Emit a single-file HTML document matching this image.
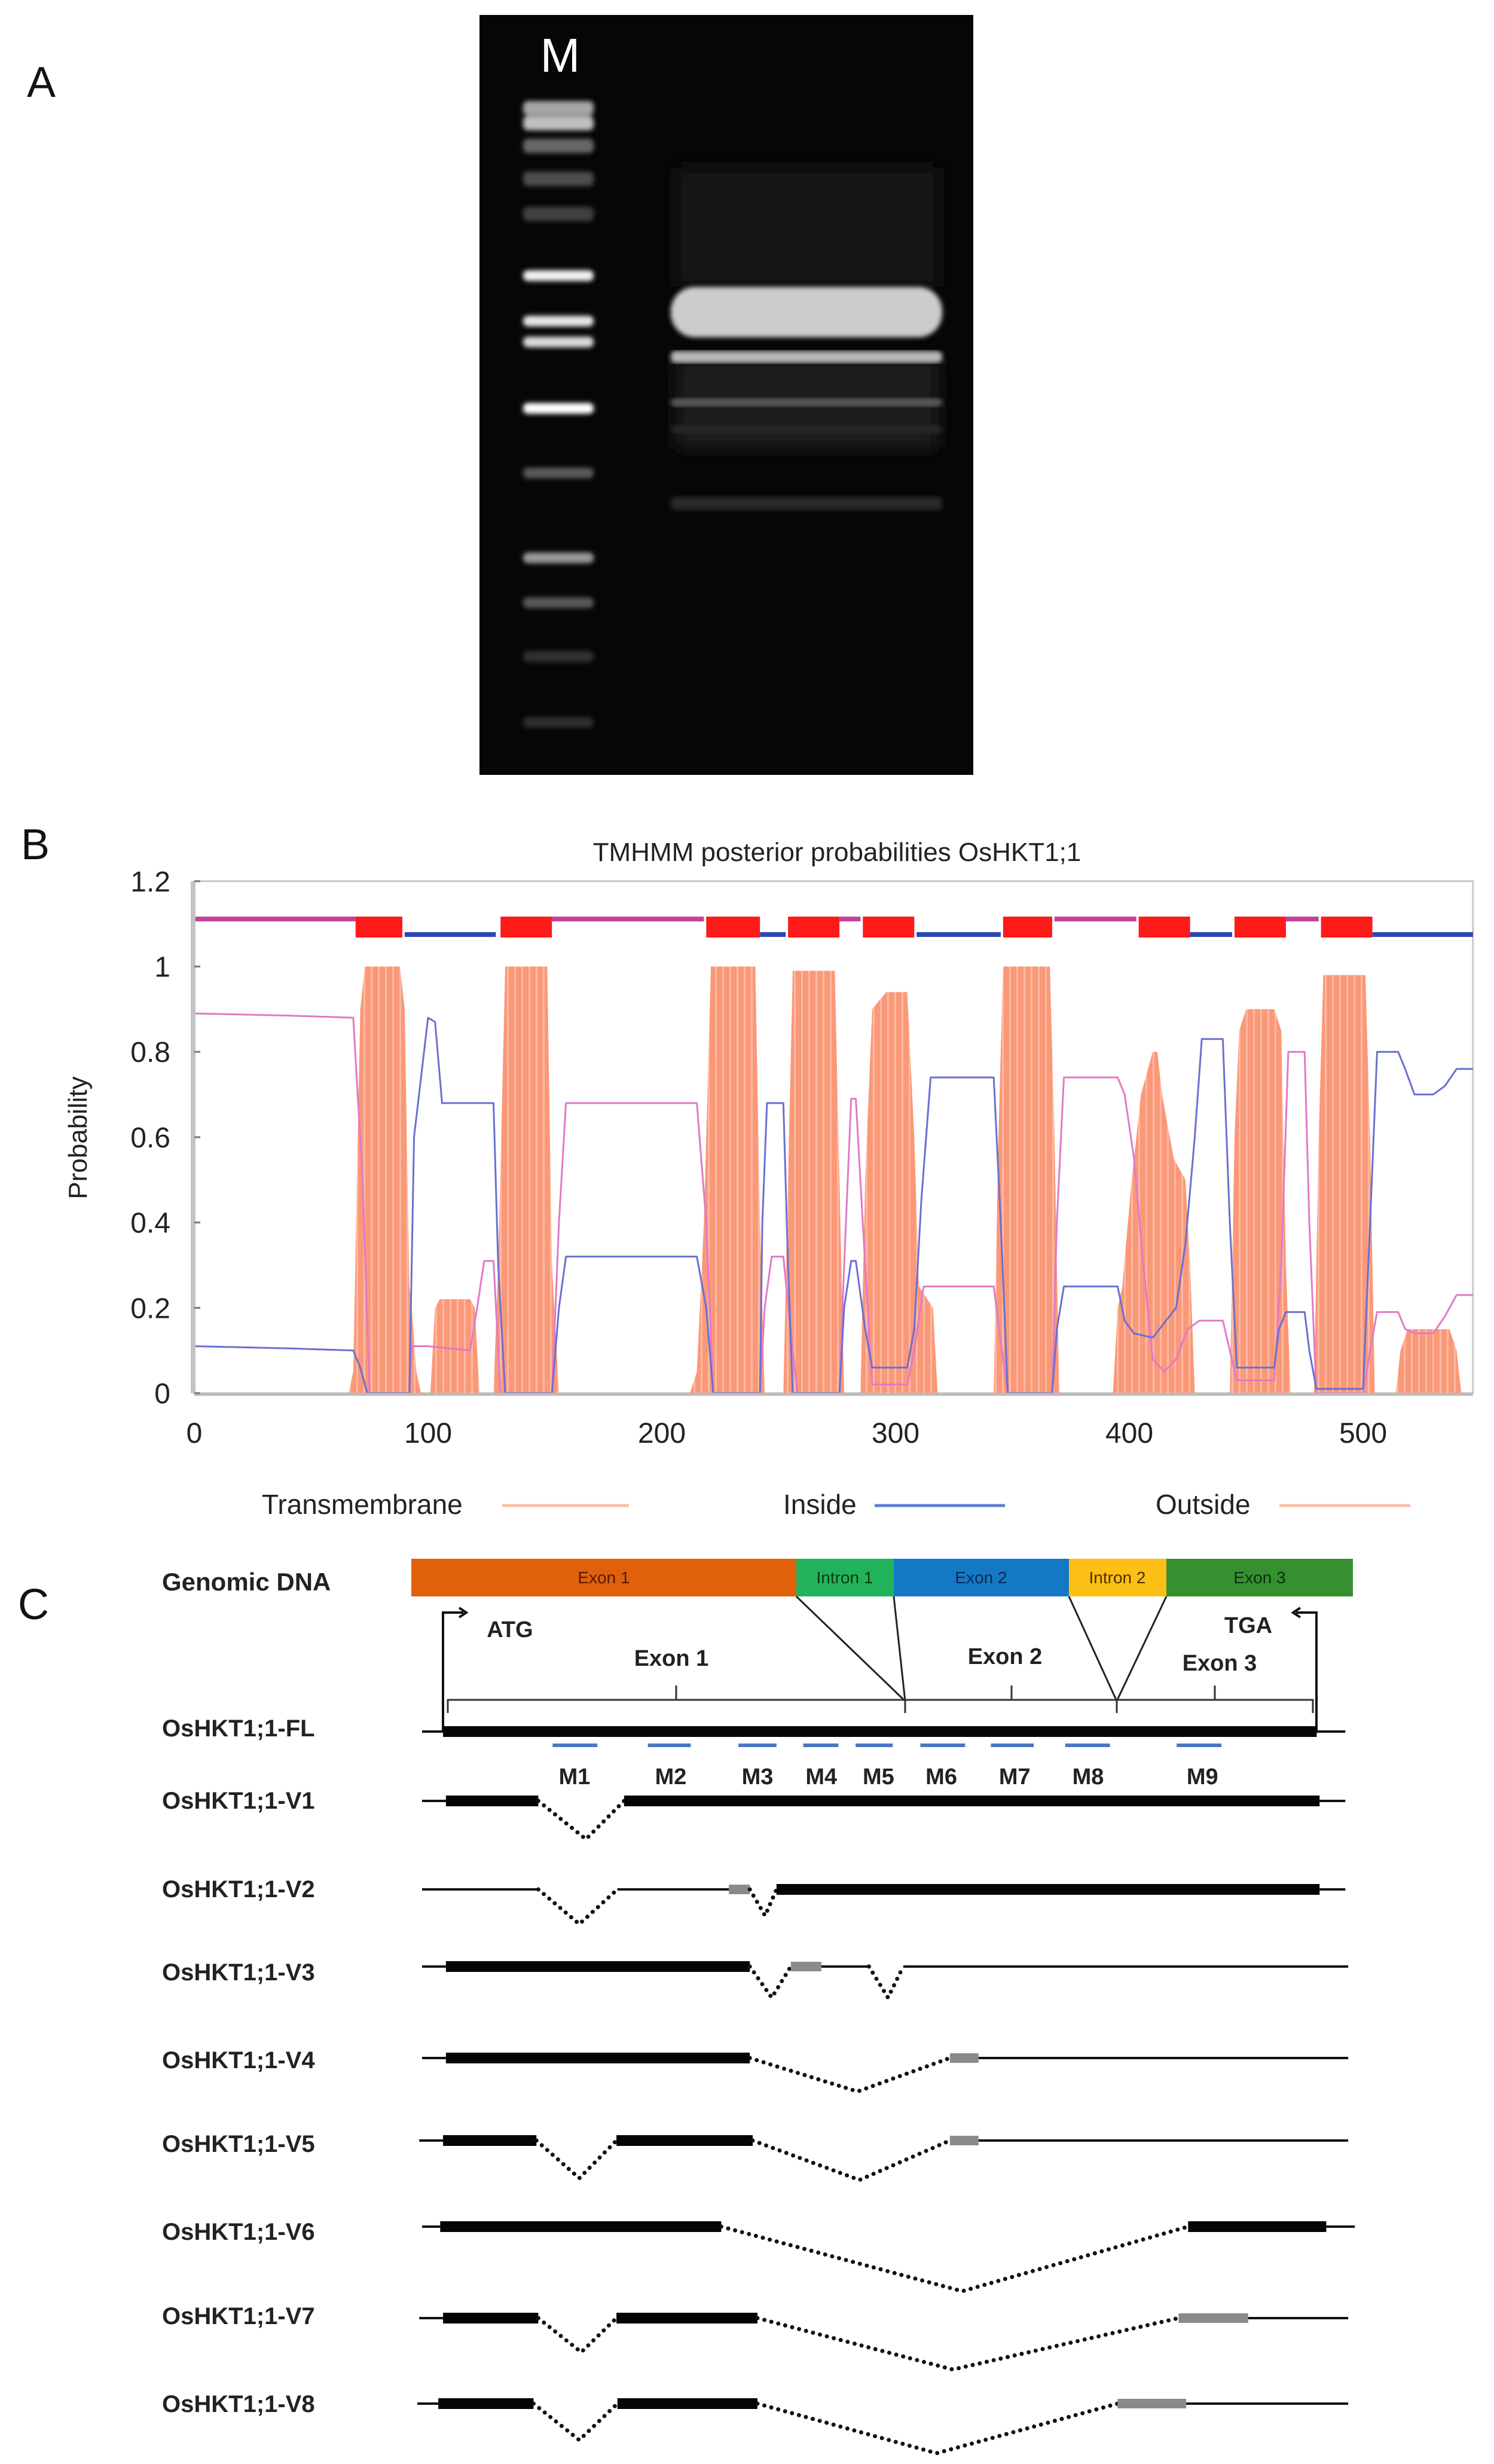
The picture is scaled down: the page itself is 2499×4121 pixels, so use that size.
<!DOCTYPE html>
<html><head><meta charset="utf-8"><style>
html,body{margin:0;padding:0;background:#fff;}
svg{display:block;font-family:"Liberation Sans",Arial,sans-serif;}
</style></head><body>
<svg id="fig" width="2499" height="4121" viewBox="0 0 2499 4121" xmlns="http://www.w3.org/2000/svg">
<defs>
<pattern id="tmstripe" patternUnits="userSpaceOnUse" width="12" height="10">
<rect width="12" height="10" fill="#fb9878"/><rect x="8" width="3" height="10" fill="#fcbaa2"/>
</pattern>
<filter id="blur2"><feGaussianBlur stdDeviation="4"/></filter>
<filter id="blur6"><feGaussianBlur stdDeviation="14"/></filter>
</defs>

<!-- Panel A -->
<text x="45" y="162" font-size="72" fill="#111">A</text>
<g>
<rect x="802" y="25" width="826" height="1271" fill="#060606"/>
<text x="937" y="120" font-size="80" fill="#fff" text-anchor="middle">M</text>
<g id="ladder" filter="url(#blur2)"></g>
<g id="sample"></g>
</g>

<!-- Panel B -->
<text x="35" y="1437" font-size="72" fill="#111">B</text>
<text x="1400" y="1440" font-size="44" fill="#222" text-anchor="middle">TMHMM posterior probabilities OsHKT1;1</text>
<text transform="translate(145,1903) rotate(-90)" font-size="44" fill="#222" text-anchor="middle">Probability</text>
<g id="plot"></g>
<g>
<g><text x="438" y="2532" font-size="46" fill="#222">Transmembrane</text><line x1="840" y1="2518" x2="1052" y2="2518" stroke="#f9c0a4" stroke-width="5"/></g>
<g><text x="1310" y="2532" font-size="46" fill="#222">Inside</text><line x1="1463" y1="2518" x2="1681" y2="2518" stroke="#5b7fcf" stroke-width="5"/></g>
<g><text x="1933" y="2532" font-size="46" fill="#222">Outside</text><line x1="2140" y1="2518" x2="2359" y2="2518" stroke="#f9c0a4" stroke-width="5"/></g>
</g>

<!-- Panel C -->
<text x="30" y="2708" font-size="72" fill="#111">C</text>
<text x="271" y="2660" font-size="42" font-weight="bold" fill="#222">Genomic DNA</text>
<g>
<rect x="688" y="2607" width="644" height="63" fill="#e0600c"/>
<rect x="1332" y="2607" width="163" height="63" fill="#22b35a"/>
<rect x="1495" y="2607" width="293" height="63" fill="#1479c4"/>
<rect x="1788" y="2607" width="163" height="63" fill="#fdbf14"/>
<rect x="1951" y="2607" width="312" height="63" fill="#35902f"/>
<g font-size="28" fill="#5a1a00" text-anchor="middle">
<text x="1010" y="2648">Exon 1</text>
<text x="1413" y="2648" fill="#0a3a10">Intron 1</text>
<text x="1641" y="2648" fill="#0a2a50">Exon 2</text>
<text x="1869" y="2648" fill="#4a3000">Intron 2</text>
<text x="2107" y="2648" fill="#0a3010">Exon 3</text>
</g>
</g>
<g stroke="#222" stroke-width="3" fill="none">
<line x1="1332" y1="2670" x2="1514" y2="2845"/><line x1="1495" y1="2670" x2="1514" y2="2845"/>
<line x1="1788" y1="2670" x2="1868" y2="2845"/><line x1="1951" y1="2670" x2="1868" y2="2845"/>
</g>
<g stroke="#111" stroke-width="4" fill="none">
<polyline points="741,2894 741,2697 775,2697"/><polyline points="2202,2894 2202,2697 2168,2697"/>
<path d="M768,2689 L780,2697 L768,2705" /><path d="M2175,2689 L2163,2697 L2175,2705"/>
</g>
<text x="853" y="2738" font-size="38" font-weight="bold" fill="#222" text-anchor="middle">ATG</text>
<text x="2088" y="2731" font-size="38" font-weight="bold" fill="#222" text-anchor="middle">TGA</text>
<g font-size="38" font-weight="bold" fill="#222" text-anchor="middle">
<text x="1123" y="2786">Exon 1</text>
<text x="1681" y="2783">Exon 2</text>
<text x="2040" y="2794">Exon 3</text>
</g>
<g stroke="#333" stroke-width="3" fill="none">
<polyline points="749,2865 749,2843 2196,2843 2196,2865"/>
<line x1="1131" y1="2843" x2="1131" y2="2819"/><line x1="1514" y1="2843" x2="1514" y2="2865"/>
<line x1="1692" y1="2843" x2="1692" y2="2819"/><line x1="1868" y1="2843" x2="1868" y2="2865"/>
<line x1="2032" y1="2843" x2="2032" y2="2819"/>
</g>
<g id="markers"></g>
<g id="rows"></g>
</svg>
<script>
// ===== Chart data (panel B) =====
const xTicks = [0,100,200,300,400,500];
const yTicks = [0,0.2,0.4,0.6,0.8,1,1.2];
const yTickLabels = ["0","0.2","0.4","0.6","0.8","1","1.2"];
const tmX = [0,66,68,71,73,75,88,90,92,93,95,97, 101,103,105,118,120,122, 128,130,133,151,153,156, 212,215,218,221,240,242,244, 252,254,256,274,276,278, 285,287,290,296,305,308,310,316,318, 342,344,346,366,368,370, 393,395,397,401,405,410,412,414,419,424,426,428, 443,445,447,450,462,465,467,469, 479,481,483,501,503,505, 514,516,519,537,540,542,547];
const tmY = [0,0,0.05,0.9,1,1,1,0.9,0.25,0.2,0.05,0, 0,0.2,0.22,0.22,0.2,0, 0,0.3,1,1,0.3,0, 0,0.05,0.4,1,1,0.4,0, 0,0.5,0.99,0.99,0.5,0, 0,0.5,0.9,0.94,0.94,0.6,0.25,0.2,0, 0,0.6,1,1,0.6,0, 0,0.2,0.25,0.5,0.7,0.8,0.8,0.7,0.55,0.5,0.3,0, 0,0.6,0.85,0.9,0.9,0.85,0.3,0, 0,0.6,0.98,0.98,0.6,0, 0,0.1,0.15,0.15,0.1,0,0];
const inX = [0,40,68,71,74,92,94,100,103,106,128,130,133,153,156,159,215,219,222,242,243,245,252,254,256,276,278,281,283,287,290,305,308,311,315,342,345,348,367,369,372,395,398,402,410,420,424,428,431,440,443,446,462,464,467,475,477,480,500,503,506,515,518,522,530,535,540,547];
const inY = [0.11,0.105,0.10,0.06,0,0,0.6,0.88,0.87,0.68,0.68,0.3,0,0,0.2,0.32,0.32,0.2,0,0,0.4,0.68,0.68,0.3,0,0,0.2,0.31,0.31,0.15,0.06,0.06,0.15,0.45,0.74,0.74,0.4,0,0,0.15,0.25,0.25,0.17,0.14,0.13,0.2,0.35,0.6,0.83,0.83,0.4,0.06,0.06,0.15,0.19,0.19,0.1,0.01,0.01,0.4,0.8,0.8,0.76,0.70,0.70,0.72,0.76,0.76];
const outX = [0,40,68,72,75,92,93,100,118,121,124,128,131,153,156,159,215,219,222,242,244,247,252,255,258,276,278,281,283,287,290,305,308,312,316,342,345,348,367,369,372,395,398,402,406,410,415,420,425,430,440,443,446,462,465,468,475,477,480,500,503,506,515,518,522,530,535,540,547];
const outY = [0.89,0.885,0.88,0.5,0,0,0.11,0.11,0.10,0.2,0.31,0.31,0,0,0.4,0.68,0.68,0.4,0,0,0.2,0.32,0.32,0.15,0,0,0.3,0.69,0.69,0.3,0.02,0.02,0.1,0.25,0.25,0.25,0.12,0,0,0.4,0.74,0.74,0.7,0.55,0.3,0.08,0.05,0.08,0.15,0.17,0.17,0.1,0.03,0.03,0.3,0.8,0.80,0.4,0,0,0.1,0.19,0.19,0.15,0.14,0.14,0.18,0.23,0.23];
const topoStart = [0,69,90,131,153,219,242,254,276,286,309,346,368,404,426,445,467,482,504];
const topoEnd   = [69,89,129,153,218,242,253,276,285,308,345,367,403,426,444,467,481,504,547];
const topoType  = ['o','tm','i','tm','o','tm','i','tm','o','tm','i','tm','o','tm','i','tm','o','tm','i'];

const NS = "http://www.w3.org/2000/svg";
function mk(tag, attrs, parent){ const e=document.createElementNS(NS,tag); for(const k in attrs) e.setAttribute(k,attrs[k]); parent.appendChild(e); return e; }
const X = v => 325 + v*3.91;
const Y = p => 2330 - p*713.5;
const plot = document.getElementById('plot');

let fr = mk('rect',{x:X(0),y:Y(1.2),width:X(547)-X(0),height:Y(0)-Y(1.2),fill:'#fff',stroke:'#c8c8c8','stroke-width':3},plot);



let tmPts = [X(tmX[0])+','+Y(0)];
for(let i=0;i<Math.min(tmX.length,tmY.length);i++) tmPts.push(X(tmX[i])+','+Y(tmY[i]));
tmPts.push(X(tmX[tmX.length-1])+','+Y(0));
let tm = mk('polygon',{points:tmPts.join(' '),fill:'url(#tmstripe)'},plot);



function linePts(xs,ys){ let p=[]; for(let i=0;i<Math.min(xs.length,ys.length);i++) p.push(X(xs[i])+','+Y(ys[i])); return p.join(' '); }
let outL = mk('polyline',{points:linePts(outX,outY),fill:'none',stroke:'#e07ac8','stroke-width':3,'stroke-linejoin':'round'},plot);


let inL = mk('polyline',{points:linePts(inX,inY),fill:'none',stroke:'#6a70d0','stroke-width':3,'stroke-linejoin':'round'},plot);



for(let i=0;i<topoType.length;i++){
  const t=topoType[i], x1=X(topoStart[i]), x2=X(topoEnd[i]);
  let e;
  if(t==='tm'){ e=mk('rect',{x:x1,y:Y(1.117),width:x2-x1,height:Y(1.068)-Y(1.117),fill:'#ff1a1a'},plot); }
  else if(t==='o'){ e=mk('rect',{x:x1,y:Y(1.117),width:x2-x1,height:8,fill:'#c2439c'},plot); }
  else { e=mk('rect',{x:x1,y:Y(1.075)-4,width:x2-x1,height:8,fill:'#2a48b0'},plot); }
  
  
}
let ax = mk('rect',{x:X(0)-6,y:Y(1.2),width:8,height:Y(0)-Y(1.2),fill:'#c4c4c4'},plot);


let bx = mk('line',{x1:X(0),y1:Y(0)+2,x2:X(547),y2:Y(0)+2,stroke:'#bbb','stroke-width':5},plot);


for(let i=0;i<yTicks.length;i++){
  const y=Y(yTicks[i]);
  let tk=mk('line',{x1:X(0),y1:y,x2:X(0)+10,y2:y,stroke:'#777','stroke-width':3},plot);
  
  
  let t=mk('text',{x:285,y:y+17,'font-size':48,'text-anchor':'end',fill:'#222'},plot);
  t.textContent=yTickLabels[i];
  
  
}
for(const v of xTicks){
  let t=mk('text',{x:X(v),y:2413,'font-size':48,'text-anchor':'middle',fill:'#222'},plot);
  t.textContent=String(v);
  
  
}

// ===== Gel =====
const ladderY = [181,206,244,299,358,461,537,572,683,791,933,1008,1098,1208];
const ladderI = [0.65,0.75,0.4,0.3,0.25,0.95,0.9,0.85,1,0.35,0.6,0.35,0.2,0.18];
const ladder = document.getElementById('ladder');
for(let i=0;i<ladderY.length;i++){
  const g=Math.round(255*ladderI[i]);
  let b=mk('rect',{x:875,y:ladderY[i]-(i<5?12:9),width:118,height:(i<5?24:18),rx:8,fill:`rgb(${g},${g},${g})`},ladder);
  
  
}
const sample=document.getElementById('sample');
let sm=mk('rect',{x:1130,y:280,width:440,height:200,fill:'#181818',filter:'url(#blur6)'},sample);


let sm2=mk('rect',{x:1130,y:600,width:440,height:150,fill:'#1c1c1c',filter:'url(#blur6)'},sample);


const bandY=[522,597,673,718,842], bandH=[84,20,14,14,22], bandI=[0.8,0.72,0.35,0.15,0.17];
for(let i=0;i<bandY.length;i++){
  const g=Math.round(255*bandI[i]);
  let b=mk('rect',{x:1122,y:bandY[i]-bandH[i]/2,width:454,height:bandH[i],rx:i==0?40:8,fill:`rgb(${g},${g},${g})`,filter:'url(#blur2)'},sample);
  
  
}

// ===== Panel C =====
const K=1.5937;
const markers=document.getElementById('markers');
const mS=[580,680,775,843,898,966,1040,1118,1235], mE=[627,725,815,880,937,1013,1085,1165,1282], mC=[603,704,795,862,922,988,1065,1142,1262];
for(let i=0;i<9;i++){
  let l=mk('line',{x1:mS[i]*K,y1:2919,x2:mE[i]*K,y2:2919,stroke:'#4a78c0','stroke-width':6},markers);
  
  
  let t=mk('text',{x:mC[i]*K,y:2984,'font-size':38,'font-weight':'bold','text-anchor':'middle',fill:'#222'},markers);
  t.textContent='M'+(i+1);
  
  
}
const rowsG=document.getElementById('rows');
const rows=[
 {n:'OsHKT1;1-FL',ty:2904,y:2896,s:[['t',443,1412],['T',465,1382]]},
 {n:'OsHKT1;1-V1',ty:3025,y:3012,s:[['t',443,468],['T',468,565],['d',565,615,655,3076],['T',655,1385],['t',1385,1412]]},
 {n:'OsHKT1;1-V2',ty:3173,y:3160,s:[['t',443,565],['d',565,608,648,3218],['t',648,765],['g',765,787],['d',787,803,815,3204],['T',815,1385],['t',1385,1412]]},
 {n:'OsHKT1;1-V3',ty:3312,y:3289,s:[['t',443,468],['T',468,787],['d',787,810,830,3341],['g',830,862],['t',862,912],['d',912,932,948,3341],['t',948,1415]]},
 {n:'OsHKT1;1-V4',ty:3459,y:3442,s:[['t',443,468],['T',468,787],['d',787,900,997,3498],['g',997,1027],['t',1027,1415]]},
 {n:'OsHKT1;1-V5',ty:3599,y:3580,s:[['t',440,465],['T',465,563],['d',563,608,647,3643],['T',647,790],['d',790,902,997,3646],['g',997,1027],['t',1027,1415]]},
 {n:'OsHKT1;1-V6',ty:3746,y:3724,s:[['t',443,462],['T',462,757],['d',757,1010,1247,3832],['T',1247,1392],['t',1392,1422]]},
 {n:'OsHKT1;1-V7',ty:3887,y:3877,s:[['t',440,465],['T',465,565],['d',565,610,647,3934],['T',647,795],['d',795,1000,1237,3963],['g',1237,1310],['t',1310,1415]]},
 {n:'OsHKT1;1-V8',ty:4034,y:4020,s:[['t',438,460],['T',460,560],['d',560,608,648,4081],['T',648,795],['d',795,983,1173,4103],['g',1173,1245],['t',1245,1415]]}
];
for(const r of rows){
  const g=mk('g',{},rowsG);
  
  
  const t=mk('text',{x:271,y:r.ty,'font-size':40,'font-weight':'bold',fill:'#222'},g);
  t.textContent=r.n;
  
  
  for(const s of r.s){
    let e;
    if(s[0]==='t') e=mk('line',{x1:s[1]*K,y1:r.y,x2:s[2]*K,y2:r.y,stroke:'#111','stroke-width':4},g);
    else if(s[0]==='T') e=mk('rect',{x:s[1]*K,y:r.y-9,width:(s[2]-s[1])*K,height:18,fill:'#050505'},g);
    else if(s[0]==='g') e=mk('rect',{x:s[1]*K,y:r.y-8,width:(s[2]-s[1])*K,height:16,fill:'#8a8a8a'},g);
    else e=mk('polyline',{points:`${s[1]*K},${r.y} ${s[2]*K},${s[4]} ${s[3]*K},${r.y}`,fill:'none',stroke:'#111','stroke-width':7,'stroke-linecap':'round','stroke-dasharray':'0 12'},g);
    
    
  }
}
</script>
</body></html>
